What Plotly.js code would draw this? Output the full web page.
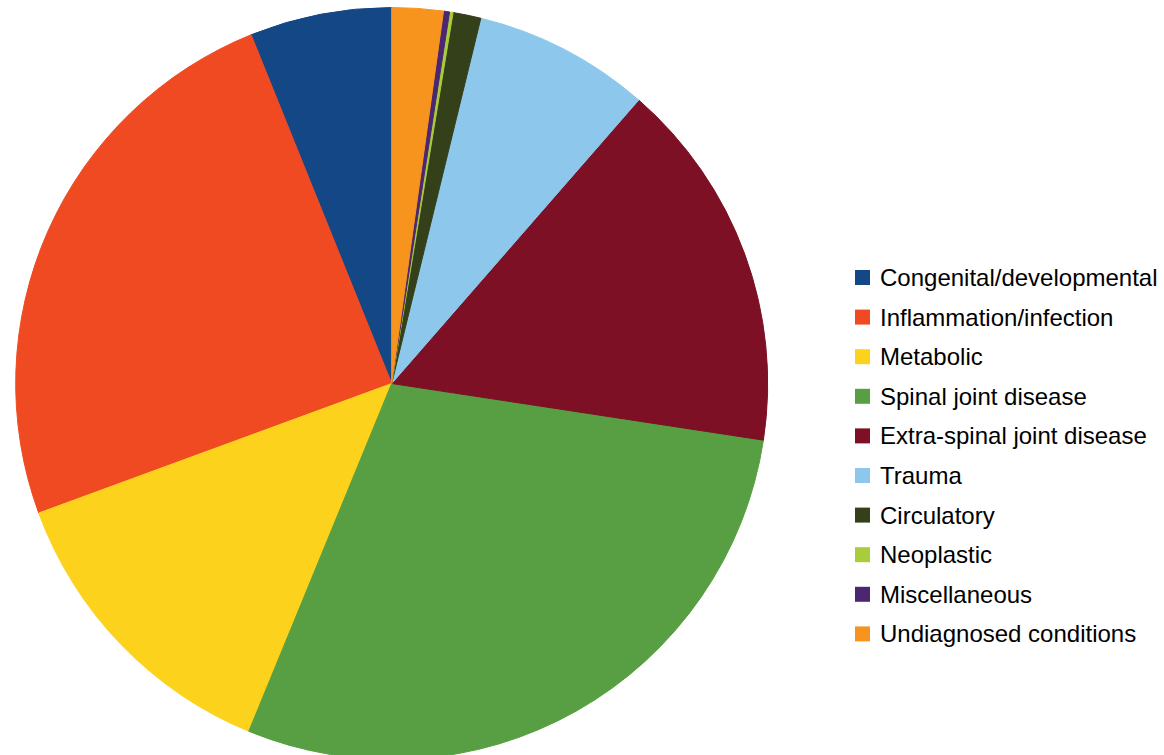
<!DOCTYPE html>
<html>
<head>
<meta charset="utf-8">
<script src="https://cdn.plot.ly/plotly-3.0.1.min.js"></script>
<style>
  html, body { margin: 0; padding: 0; background: #ffffff; overflow: hidden; }
  #chart { width: 1164px; height: 800px; }
</style>
</head>
<body>
<div id="chart"></div>
<script>
// Share of cases by diagnostic category (%)
const categories = [
  "Congenital/developmental",
  "Inflammation/infection",
  "Metabolic",
  "Spinal joint disease",
  "Extra-spinal joint disease",
  "Trauma",
  "Circulatory",
  "Neoplastic",
  "Miscellaneous",
  "Undiagnosed conditions"
];
const shares = [6.1, 24.5, 13.2, 28.8, 16.0, 7.6, 1.2, 0.15, 0.26, 2.2];
const sliceColors = [
  "#144785", "#F04A23", "#FDD21D", "#579F42", "#7D1024",
  "#8DC8EC", "#344019", "#A9CC3A", "#4B2771", "#F7941E"
];

const W = 1164, H = 800;
const cx = 391.7, cy = 383.5, r = 376;

// Slices run counterclockwise, with the first one ending at 12 o'clock
const total = shares.reduce((a, b) => a + b, 0);
const startRotation = -360 * shares[0] / total;

const trace = {
  type: "pie",
  labels: categories,
  values: shares,
  sort: false,
  direction: "counterclockwise",
  rotation: startRotation,
  textinfo: "none",
  hoverinfo: "label+percent",
  showlegend: false,
  marker: { colors: sliceColors, line: { color: sliceColors, width: 1 } },
  domain: {
    x: [(cx - r) / W, (cx + r) / W],
    y: [(H - cy - r) / H, (H - cy + r) / H]
  }
};

// Key on the right: one coloured square and one label per category
const keyFirstY = 277.5, keyStep = 39.6, keyBoxX = 855, keyBox = 15, keyTextX = 878;
const keyShapes = categories.map((name, i) => {
  const yc = keyFirstY + i * keyStep;
  return {
    type: "rect", xref: "paper", yref: "paper",
    x0: keyBoxX / W, x1: (keyBoxX + keyBox) / W,
    y0: (H - yc - keyBox / 2) / H, y1: (H - yc + keyBox / 2) / H,
    fillcolor: sliceColors[i], line: { width: 0 }
  };
});
const keyLabels = categories.map((name, i) => {
  const yc = keyFirstY + i * keyStep;
  return {
    text: name, xref: "paper", yref: "paper",
    x: keyTextX / W, y: (H - yc) / H,
    xanchor: "left", yanchor: "middle",
    showarrow: false,
    font: { family: "Liberation Sans, Arial, sans-serif", size: 24, color: "#000000" }
  };
});

const layout = {
  width: W,
  height: H,
  margin: { l: 0, r: 0, t: 0, b: 0, pad: 0 },
  paper_bgcolor: "#ffffff",
  showlegend: false,
  shapes: keyShapes,
  annotations: keyLabels
};

Plotly.newPlot("chart", [trace], layout, { displayModeBar: false, staticPlot: true });
</script>
</body>
</html>
